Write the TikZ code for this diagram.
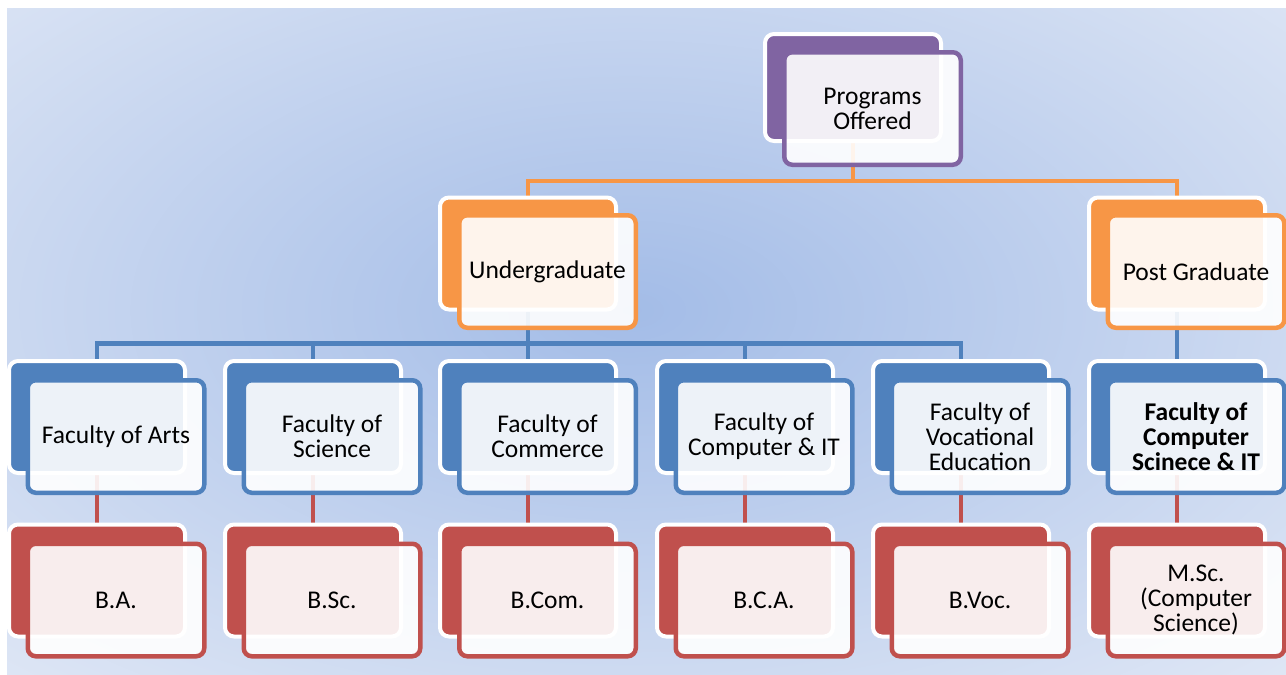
\documentclass[tikz,border=0pt]{standalone}
\usepackage{fontspec}
\setmainfont{Carlito}
\pgfdeclarelayer{bglayer}
\pgfdeclarelayer{lines}
\pgfsetlayers{bglayer,lines,main}
\definecolor{cpur}{HTML}{8064A2}
\definecolor{corg}{HTML}{F79646}
\definecolor{cblue}{HTML}{4F81BD}
\definecolor{cred}{HTML}{C0504D}
\definecolor{bgin}{RGB}{163,188,231}
\definecolor{bgout}{RGB}{226,233,246}
\tikzset{
  backbox/.style={draw=white, fill=#1, line width=4pt, rounded corners=9pt,
    minimum width=176pt, minimum height=112pt, inner sep=0pt},
  frontbox/.style={draw=#1, line width=4.5pt, rounded corners=8pt, fill=white,
    fill opacity=0.9, text opacity=1, draw opacity=1, minimum width=176.5pt,
    minimum height=112.5pt, inner sep=2pt, align=center, text=black,
    font=\fontsize{25.5}{25}\selectfont},
  conn/.style={draw=#1, line width=4.5pt}
}
\begin{document}
\begin{tikzpicture}[x=1pt,y=-1pt]
\useasboundingbox (0,0) rectangle (1286,675);
\begin{pgfonlayer}{bglayer}
  \begin{scope}
    \clip (7,8) rectangle (1286,675);
    \fill[bgout] (7,8) rectangle (1286,675);
    \shade[inner color=bgin, outer color=bgout] (630,310) ellipse [x radius=1000pt, y radius=540pt];
  \end{scope}
\end{pgfonlayer}

% level 1
\node[backbox=cpur, minimum height=107pt] (po) at (853,87.5) {};
\node[frontbox=cpur] (pof) at (872.5,108.5) {Programs\\Offered};
% level 2
\node[backbox=corg] (ug) at (528,253.5) {};
\node[frontbox=corg] (ugf) at (547.5,271.5) {Undergraduate};
\node[backbox=corg] (pg) at (1177,253.5) {};
\node[frontbox=corg] (pgf) at (1196,271.5) {Post Graduate};
% level 3
\node[backbox=cblue] (f1) at (97,417) {};
\node[frontbox=cblue] (f1f) at (116,436.5) {Faculty of Arts};
\node[backbox=cblue] (f2) at (313,417) {};
\node[frontbox=cblue] (f2f) at (332,436.5) {Faculty of\\Science};
\node[backbox=cblue] (f3) at (528,417) {};
\node[frontbox=cblue] (f3f) at (547.5,436.5) {Faculty of\\Commerce};
\node[backbox=cblue] (f4) at (745,417) {};
\node[frontbox=cblue] (f4f) at (764,436.5) {Faculty of\\Computer \& IT};
\node[backbox=cblue] (f5) at (961,417) {};
\node[frontbox=cblue] (f5f) at (980,436.5) {Faculty of\\Vocational\\Education};
\node[backbox=cblue] (f6) at (1177,417) {};
\node[frontbox=cblue, font=\fontsize{25.5}{25}\selectfont\bfseries] (f6f) at (1196,436.5) {Faculty of\\Computer\\Scinece \& IT};
% level 4
\node[backbox=cred] (d1) at (97,580.5) {};
\node[frontbox=cred] (d1f) at (116,600) {B.A.};
\node[backbox=cred] (d2) at (313,580.5) {};
\node[frontbox=cred] (d2f) at (332,600) {B.Sc.};
\node[backbox=cred] (d3) at (528,580.5) {};
\node[frontbox=cred] (d3f) at (547.5,600) {B.Com.};
\node[backbox=cred] (d4) at (745,580.5) {};
\node[frontbox=cred] (d4f) at (764,600) {B.C.A.};
\node[backbox=cred] (d5) at (961,580.5) {};
\node[frontbox=cred] (d5f) at (980,600) {B.Voc.};
\node[backbox=cred] (d6) at (1177,580.5) {};
\node[frontbox=cred] (d6f) at (1196,600) {M.Sc.\\(Computer\\Science)};

\begin{pgfonlayer}{lines}
  \draw[conn=corg] (po.south) -- ++(0,38) coordinate (oj);
  \draw[conn=corg] (ug.north) |- (oj) -| (pg.north);
  \draw[conn=cblue] (ug.south) -- ++(0,32) coordinate (bj);
  \draw[conn=cblue] (f1.north) |- (bj) -| (f5.north);
  \draw[conn=cblue] (f2.north) |- (bj);
  \draw[conn=cblue] (f4.north) |- (bj);
  \draw[conn=cblue] (f3.north) -- (bj);
  \draw[conn=cblue] (pg.south) -- (f6.north);
  \foreach \i in {1,...,6} {\draw[conn=cred] (f\i.south) -- (d\i.north);}
\end{pgfonlayer}
\end{tikzpicture}
\end{document}
